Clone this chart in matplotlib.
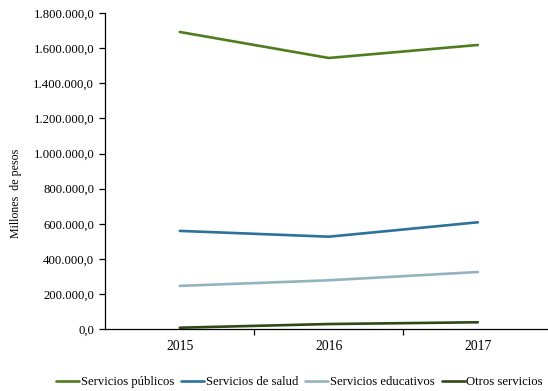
import matplotlib
matplotlib.use("Agg")
import matplotlib.pyplot as plt
from matplotlib.ticker import FuncFormatter, FixedLocator

plt.rcParams['font.family'] = ['Liberation Serif', 'DejaVu Serif']

years = ["2015", "2016", "2017"]
publicos = [1692000, 1544000, 1618000]
salud = [560000, 527000, 609000]
educativos = [247000, 279000, 326000]
otros = [9000, 30000, 40000]

series = [
    ("Servicios públicos", publicos, "#4e7d1e"),
    ("Servicios de salud", salud, "#2b729c"),
    ("Servicios educativos", educativos, "#93b3c1"),
    ("Otros servicios", otros, "#2c4a16"),
]

fig = plt.figure(figsize=(5.48, 3.91), dpi=100)
ax = fig.add_axes([105.3 / 548, 1 - 329.3 / 391, 447 / 548, 316.3 / 391])
x = list(range(len(years)))
for name, vals, col in series:
    ax.plot(x, vals, color=col, lw=1.9, label=name, solid_capstyle='round')

ax.set_xlim(-0.5, 2.5)
ax.set_ylim(0, 1800000)
ax.set_yticks(range(0, 1800001, 200000))

def fmt(v, pos):
    s = f"{int(round(v)):,}".replace(",", ".")
    return s + ",0"
ax.yaxis.set_major_formatter(FuncFormatter(fmt))
ax.set_xticks(x)
ax.set_xticklabels(years)
ax.tick_params(axis='x', which='major', length=0, pad=8, labelsize=9.8)
ax.xaxis.set_minor_locator(FixedLocator([0.5, 1.5]))
ax.tick_params(axis='x', which='minor', length=4, direction='out', width=0.9)
ax.tick_params(axis='y', length=4, direction='out', width=0.9, labelsize=9.2, pad=4)
for s in ['top', 'right']:
    ax.spines[s].set_visible(False)
ax.spines['left'].set_linewidth(0.9)
ax.spines['bottom'].set_linewidth(0.9)
ax.set_ylabel("Millones  de pesos", fontsize=8.6)
ax.yaxis.set_label_coords(-0.187, 0.429)

fig.legend(*ax.get_legend_handles_labels(), loc='center', bbox_to_anchor=(0.547, 0.023), ncol=4,
           frameon=False, fontsize=9.1, handlelength=1.8, columnspacing=0.55,
           handletextpad=0.15, borderaxespad=0, borderpad=0)

fig.savefig("out.png", dpi=100)
